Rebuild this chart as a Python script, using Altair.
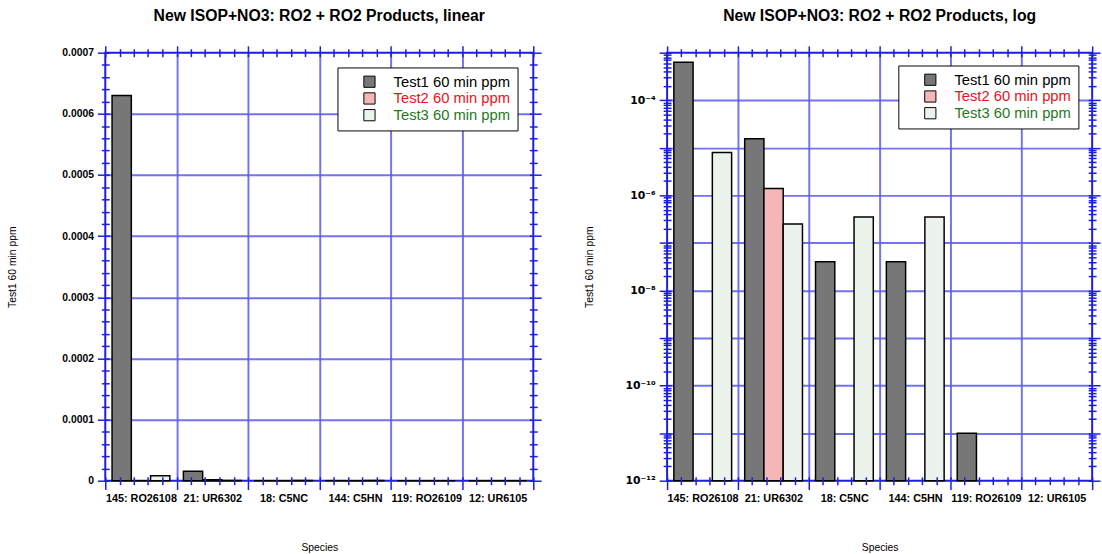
import json
import altair as alt
import pandas as pd

species = ["145: RO26108", "21: UR6302", "18: C5NC", "144: C5HN", "119: RO26109", "12: UR6105"]
tests = ["Test1 60 min ppm", "Test2 60 min ppm", "Test3 60 min ppm"]
test1 = [6.3e-4, 1.55e-5, 4.0e-8, 4.0e-8, 1.0e-11, 0.0]
test2 = [0.0, 1.4e-6, 0.0, 0.0, 0.0, 0.0]
test3 = [8.0e-6, 2.5e-7, 3.5e-7, 3.5e-7, 0.0, 0.0]
fills = ["#777777", "#f4b6b6", "#ecf3ec"]
label_colors = ["#000000", "#e8141c", "#1e7a1e"]
log_labels = ["", "", "", "", "10\u207b\u2074", "", "10\u207b\u2076", "", "10\u207b\u2078", "",
              "10\u207b\u00b9\u2070", "", "10\u207b\u00b9\u00b2"]

rows = []
for t, vals in zip(tests, [test1, test2, test3]):
    for s, v in zip(species, vals):
        rows.append({"species": s, "test": t, "value": v})
df = pd.DataFrame(rows)

BLUE = "#1c1ce6"
GRID = "#5a5aea"
FONT = "Liberation Sans"
H = 435

label_color_expr = (
    f"datum.label == '{tests[1]}' ? '{label_colors[1]}' : "
    f"datum.label == '{tests[2]}' ? '{label_colors[2]}' : '{label_colors[0]}'"
)


def panel(kind, width, title, legend_x, legend_y, ytitle_x):
    if kind == "linear":
        yscale = dict(type="linear", domain=[0, 0.0007], nice=False, zero=False)
        yvals = [round(i * 0.00002, 6) for i in range(36)]
        ymajor = "abs(datum.value*10000 - round(datum.value*10000)) < 0.001"
        ylab = f"({ymajor}) ? (datum.value < 1e-9 ? '0' : format(datum.value, '.4f')) : ''"
        ygrid = [round(i * 0.0001, 4) for i in range(1, 7)]
        ydat = 0.0003
        ylab_size = 10.5
        ylab_font = FONT
    else:
        yscale = dict(type="log", domain=[1e-12, 1e-3], nice=False)
        yvals = [float(f"{m}e{k}") for k in range(-12, -3) for m in range(1, 10)] + [1e-3]
        ymajor = "abs(log(datum.value)/LN10 - round(log(datum.value)/LN10)) < 0.001"
        ylab = f"({ymajor}) ? {json.dumps(log_labels, ensure_ascii=False)}[-round(log(datum.value)/LN10)] : ''"
        ygrid = [float(f"1e{k}") for k in range(-11, -3)]
        ydat = 1e-6
        ylab_size = 11
        ylab_font = "DejaVu Sans"

    xq = alt.Scale(domain=[0, 6], nice=False, zero=False)
    yq = alt.Scale(**yscale)
    xticks = [round(i * 0.2, 3) for i in range(31)]
    xall = sorted(xticks + [i + 0.5 for i in range(6)])
    xmajor = "abs(datum.value - round(datum.value)) < 0.001"
    xhalf = "abs(datum.value - floor(datum.value) - 0.5) < 0.001"
    xlab = f"({xhalf}) ? {json.dumps(species)}[floor(datum.value)] : ''"

    base = alt.Chart(df)

    grid = base.mark_point(opacity=0).encode(
        x=alt.XDatum(3, type="quantitative", scale=xq, axis=alt.Axis(
            orient="bottom", values=[1, 2, 3, 4, 5], grid=True, gridColor=GRID, gridWidth=2,
            gridOpacity=0.85, ticks=False, labels=False, domain=False,
            title="Species", titleX=width / 2, titleY=68, titleBaseline="middle",
            titleFont=FONT, titleFontSize=10.5, titleFontWeight="normal", titleColor="black",
            zindex=0)),
        y=alt.YDatum(ydat, type="quantitative", scale=yq, axis=alt.Axis(
            orient="left", values=ygrid, grid=True, gridColor=GRID, gridWidth=2,
            gridOpacity=0.85, ticks=False, labels=False, domain=False,
            title="Test1 60 min ppm", titleX=ytitle_x, titleY=H / 2, titleBaseline="middle",
            titleAngle=270, titleFont=FONT, titleFontSize=10.5, titleFontWeight="normal",
            titleColor="black", zindex=0)),
    )

    bars = base.mark_bar(stroke="black", strokeWidth=1.5).encode(
        x=alt.X("species:N", sort=species,
                scale=alt.Scale(domain=species, paddingInner=0.19, paddingOuter=0.095),
                axis=None),
        xOffset=alt.XOffset("test:N", sort=tests,
                            scale=alt.Scale(domain=tests, paddingInner=0, paddingOuter=0)),
        y=alt.Y("value:Q", scale=yq, axis=None),
        fill=alt.Fill("test:N", sort=tests, scale=alt.Scale(domain=tests, range=fills),
                      legend=alt.Legend(
                          title=None, orient="none", legendX=legend_x, legendY=legend_y,
                          symbolType="square", symbolSize=130, symbolStrokeColor="black",
                          symbolStrokeWidth=1, labelFont=FONT, labelFontSize=15,
                          labelColor=alt.ExprRef(label_color_expr),
                          strokeColor="black", fillColor="white", padding=7,
                          symbolOffset=18, labelOffset=17, rowPadding=0, labelLimit=300)),
    )
    if kind == "log":
        bars = bars.transform_filter("datum.value > 0").encode(
            y2=alt.Y2Datum(1e-12))

    ax1 = base.mark_point(opacity=0).encode(
        x=alt.XDatum(3, type="quantitative", scale=xq, axis=alt.Axis(
            orient="bottom", values=xall, labelExpr=xlab, offset=-4, domain=False, grid=False,
            tickColor=BLUE, tickWidth=1.5,
            tickSize={"condition": {"test": xmajor, "value": 13}, "value": 8},
            tickOpacity={"condition": {"test": xhalf, "value": 0}, "value": 1},
            labelFont=FONT, labelFontSize=11, labelFontWeight="bold", labelPadding=8,
            labelColor="black", labelOverlap=False, labelFlush=False, title=None, zindex=2)),
        y=alt.YDatum(ydat, type="quantitative", scale=yq, axis=alt.Axis(
            orient="left", values=yvals, labelExpr=ylab, offset=-4, domain=False, grid=False,
            tickColor=BLUE, tickWidth=1.5,
            tickSize={"condition": {"test": ymajor, "value": 12}, "value": 8},
            labelFont=ylab_font, labelFontSize=ylab_size, labelFontWeight="bold", labelPadding=4,
            labelColor="black", labelOverlap=False, labelFlush=False, title=None, zindex=2)),
    )

    ax2 = base.mark_point(opacity=0).encode(
        x=alt.XDatum(3, type="quantitative", scale=xq, axis=alt.Axis(
            orient="top", values=xticks, offset=-4, domain=False, grid=False, labels=False,
            tickColor=BLUE, tickWidth=1.5,
            tickSize={"condition": {"test": xmajor, "value": 11}, "value": 8},
            title=None, zindex=2)),
        y=alt.YDatum(ydat, type="quantitative", scale=yq, axis=alt.Axis(
            orient="right", values=yvals, offset=-4, domain=False, grid=False, labels=False,
            tickColor=BLUE, tickWidth=1.5,
            tickSize={"condition": {"test": ymajor, "value": 12}, "value": 8},
            title=None, zindex=2)),
    )

    return alt.layer(grid, bars, ax1, ax2).resolve_scale(
        x="independent", y="independent"
    ).resolve_axis(x="independent", y="independent").properties(
        width=width, height=H,
        title=alt.TitleParams(title, font=FONT, fontSize=16, fontWeight="bold",
                              color="black", anchor="middle", offset=21),
    )


left = panel("linear", 435, "New ISOP+NO3: RO2 + RO2 Products, linear", 236, 15, -94)
right = panel("log", 432, "New ISOP+NO3: RO2 + RO2 Products, log", 235, 13, -79)

chart = alt.hconcat(left, right, spacing=41).resolve_legend(
    fill="independent"
).resolve_scale(fill="independent").configure_view(
    stroke=BLUE, strokeWidth=2
).properties(padding={"left": 7, "top": 3, "right": 0, "bottom": 0})

chart.save("out.html", embed_options={"renderer": "svg", "actions": False})
